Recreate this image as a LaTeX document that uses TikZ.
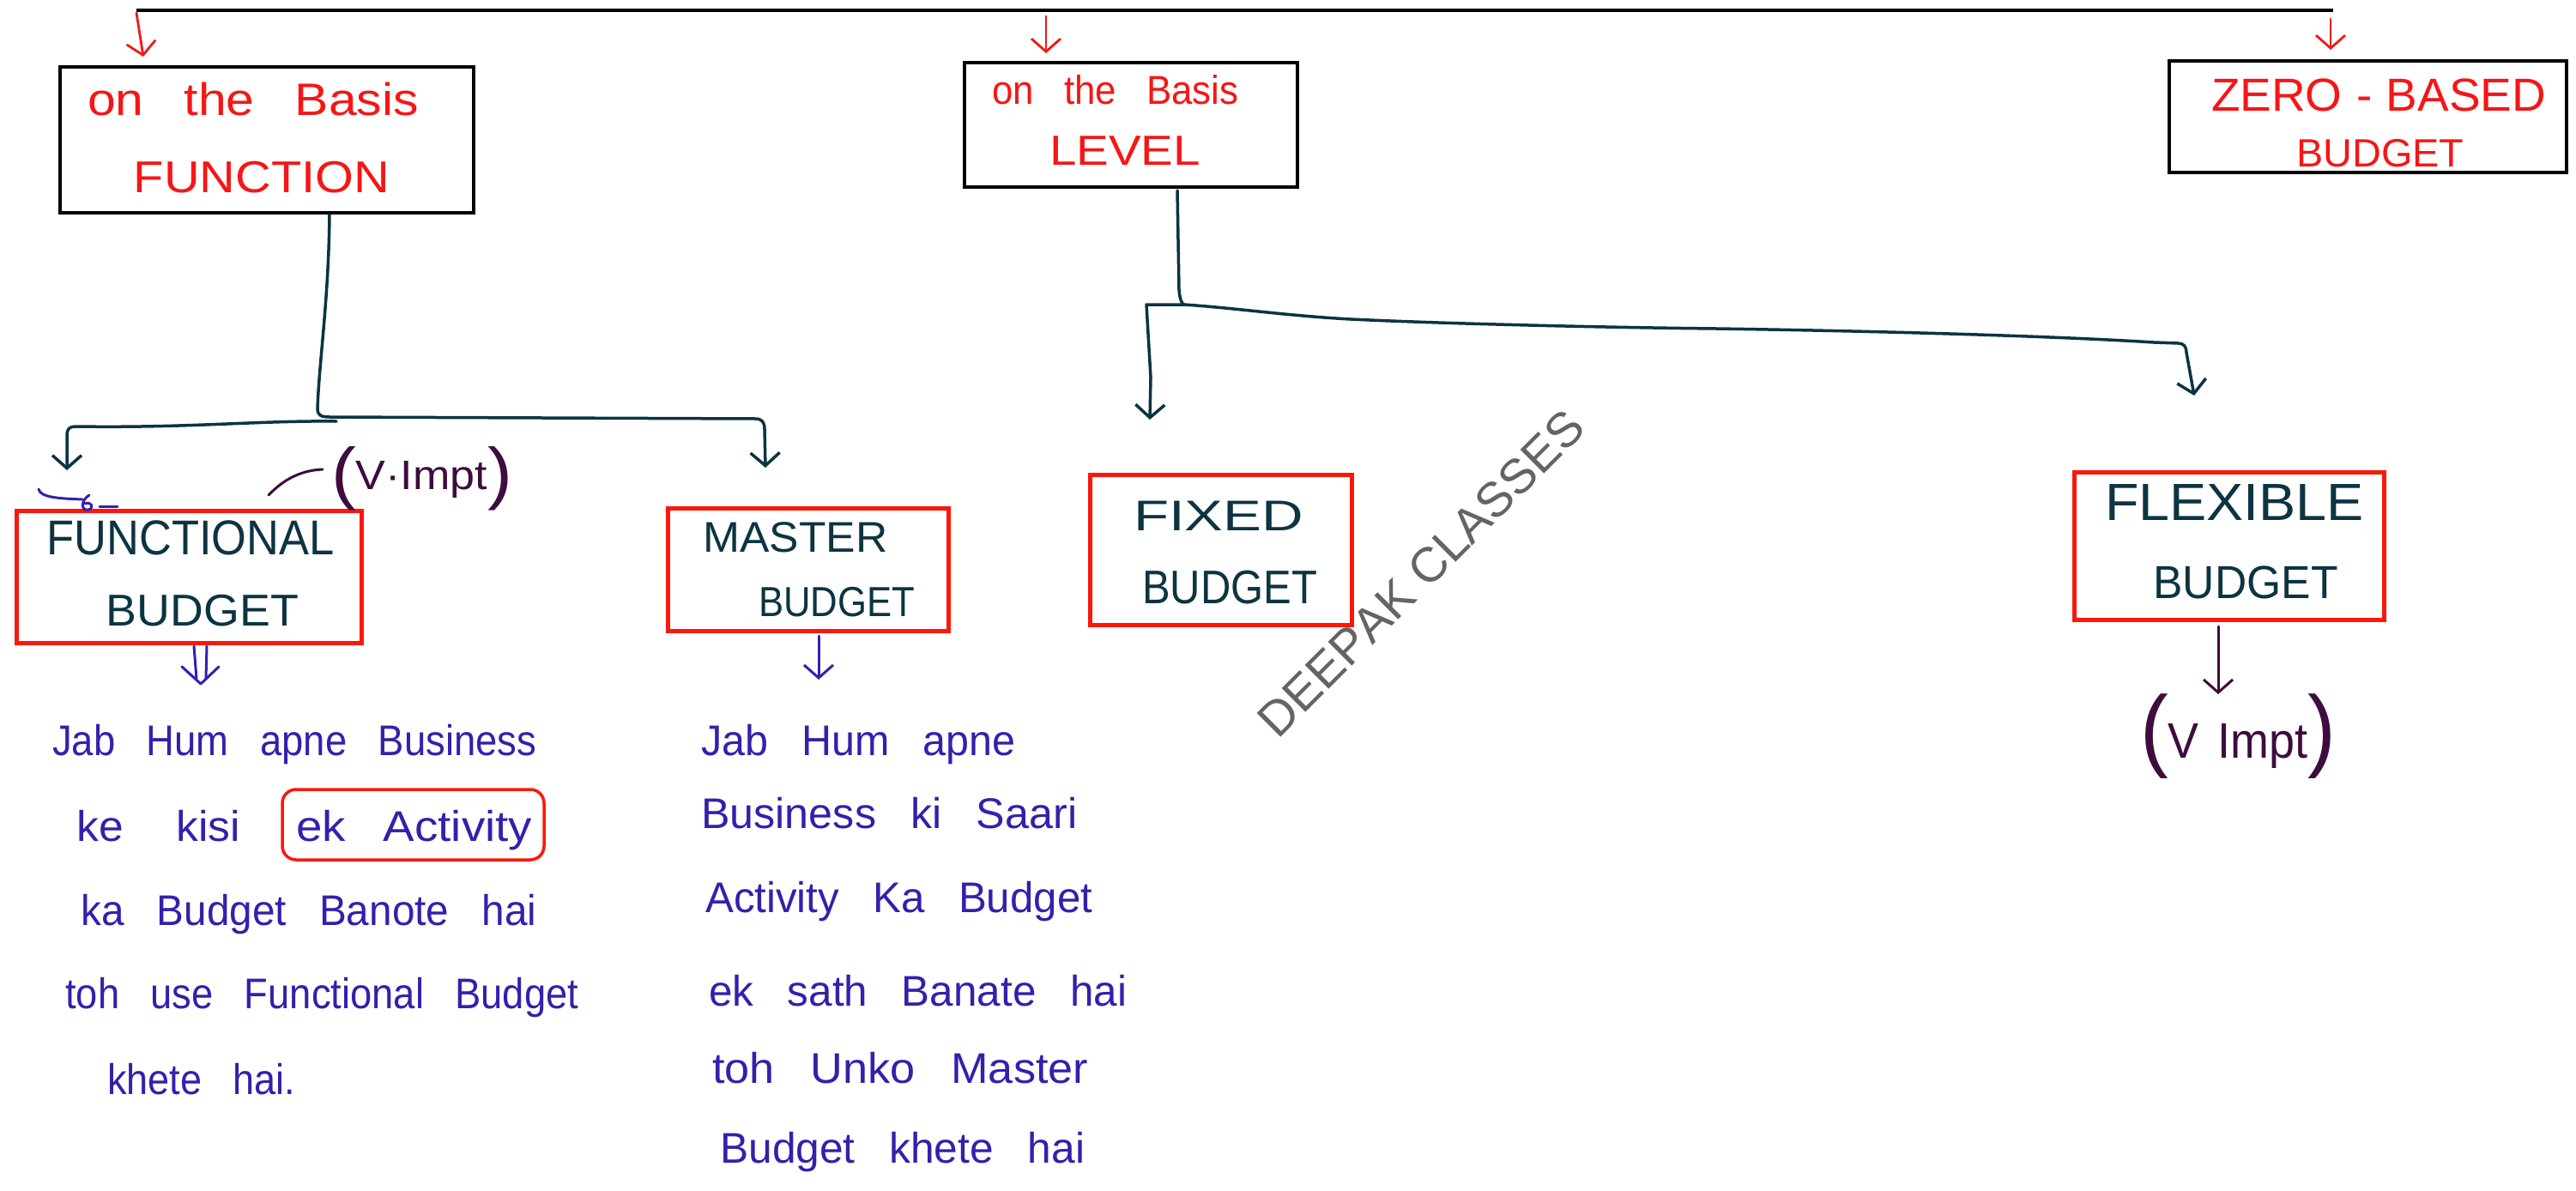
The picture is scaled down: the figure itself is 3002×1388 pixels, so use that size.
\documentclass[tikz,border=0pt]{standalone}
\usepackage{fontspec}
\setmainfont{Liberation Sans}
\usepackage{graphicx}
\usetikzlibrary{arrows.meta,decorations.text}
\definecolor{pred}{RGB}{245,22,22}
\definecolor{bred}{RGB}{250,24,12}
\definecolor{teal2}{RGB}{12,52,66}
\definecolor{ink}{RGB}{52,32,172}
\definecolor{plum}{RGB}{62,12,62}
\definecolor{wmgray}{RGB}{100,100,100}
\newcommand\tx[4][0.8em]{{\fontsize{#2}{#2}\selectfont\spaceskip=#1\relax\resizebox{#3pt}{\height}{#4}}}
\begin{document}
\begin{tikzpicture}[x=1pt,y=-1pt,
  boxbase/.style={rectangle,inner sep=0pt,outer sep=0pt},
  blk/.style={boxbase,draw=black,line width=4.5pt},
  rbox/.style={boxbase,draw=bred,line width=5pt},
  conn/.style={draw=teal2,line width=3.5pt,line cap=round,line join=round},
  barbend/.style={-{Straight Barb[length=15pt,width=34pt]}},
  redarr/.style={draw=pred,line width=2.8pt,line cap=round,barbend},
  bluepen/.style={draw=ink,line width=3pt,line cap=round,line join=round},
  plumpen/.style={draw=plum,line width=3pt,line cap=round,line join=round},
  redtxt/.style={inner sep=0pt,anchor=base,text=pred},
  tealtxt/.style={inner sep=0pt,anchor=base,text=teal2},
  inktxt/.style={inner sep=0pt,anchor=base west,text=ink},
  plumtxt/.style={inner sep=0pt,anchor=center,text=plum}]
\useasboundingbox (0,0) rectangle (3002,1388);
\fill[white] (0,0) rectangle (3002,1388);

% ---- top bar and red arrows
\coordinate (tl) at (159,12);
\coordinate (tr) at (2719,12);
\draw[black,line width=4.5pt] (tl) -- (tr);
\coordinate (a1s) at (159,15);  \coordinate (a1e) at (167,66);
\coordinate (a2s) at (1219,19); \coordinate (a2e) at (1219,62);
\coordinate (a3s) at (2716,22); \coordinate (a3e) at (2716,58);
\draw[redarr] (a1s) -- (a1e);
\draw[redarr] (a2s) -- (a2e);
\draw[redarr] (a3s) -- (a3e);

% ---- top level boxes
\node[blk,minimum width=482pt,minimum height=170pt] (b1) at (311,163) {};
\node[blk,minimum width=388pt,minimum height=145pt] (b2) at (1318,145.5) {};
\node[blk,minimum width=463pt,minimum height=130pt] (b3) at (2759.5,136) {};
\node[redtxt] (t1a) at (295,135) {\tx{53}{386}{on the Basis}};
\node[redtxt] (t1b) at (305,225) {\tx{52}{298}{FUNCTION}};
\node[redtxt] (t2a) at (1300,122) {\tx{47}{287}{on the Basis}};
\node[redtxt] (t2b) at (1311,193) {\tx{49}{176}{LEVEL}};
\node[redtxt] (t3a) at (2772,130) {\tx[0.3em]{54}{390}{ZERO - BASED}};
\node[redtxt] (t3b) at (2774,195) {\tx{46}{195}{BUDGET}};

% ---- second level boxes
\node[rbox,minimum width=402pt,minimum height=154pt] (func) at (220,672) {};
\node[rbox,minimum width=327pt,minimum height=143pt] (mast) at (941.5,663.5) {};
\node[rbox,minimum width=305pt,minimum height=175pt] (fixd) at (1422.5,640.5) {};
\node[rbox,minimum width=361pt,minimum height=172pt] (flex) at (2597.5,636) {};
\node[tealtxt] (f1) at (222,646) {\tx{57}{335}{FUNCTIONAL}};
\node[tealtxt] (f2) at (236,729) {\tx{52}{224}{BUDGET}};
\node[tealtxt] (m1) at (927,643) {\tx{50}{215}{MASTER}};
\node[tealtxt] (m2) at (975,718) {\tx{49}{182}{BUDGET}};
\node[tealtxt] (x1) at (1420,618) {\tx{50}{198}{FIXED}};
\node[tealtxt] (x2) at (1433,703) {\tx{55}{204}{BUDGET}};
\node[tealtxt] (l1) at (2604,606) {\tx{61}{302}{FLEXIBLE}};
\node[tealtxt] (l2) at (2617,697) {\tx{54}{215}{BUDGET}};

% ---- function branch connectors
\coordinate (b1o) at (384,250);
\coordinate (fjn) at (392,491);
\coordinate (ftip) at (78,548);
\coordinate (mtip) at (892,545);
\draw[conn,barbend] (b1o) .. controls (383,350) and (372,420) .. (370,476)
  .. controls (370,484) and (374,486) .. (384,486) -- (880,488)
  .. controls (888,488) and (891,492) .. (891,500) -- (mtip);
\draw[conn,barbend] (fjn) .. controls (300,490) and (220,499) .. (88,497)
  .. controls (81,497) and (78,500) .. (78,507) -- (ftip);

% ---- level branch connectors
\coordinate (b2o) at (1372,222);
\coordinate (ljn) at (1380,355);
\coordinate (xtip) at (1340,489);
\coordinate (ltip) at (2557,461);
\draw[conn] (b2o) -- (1374,338) .. controls (1375,350) and (1378,355) .. (ljn);
\draw[conn,barbend] (ljn) -- (1336,355) -- (1341,440) -- (xtip);
\draw[conn,barbend] (ljn) .. controls (1440,359) and (1500,368) .. (1574,372)
  .. controls (1700,378) and (1900,382) .. (2000,383)
  .. controls (2200,386) and (2400,392) .. (2510,399) -- (2538,400)
  .. controls (2545,400) and (2548,404) .. (2548,411) -- (ltip);

% ---- annotation (V.Impt) near functional
\node[plumtxt] (imp1) at (491.5,557.5) {\resizebox{211pt}{\height}{\fontsize{80}{80}\selectfont(\raisebox{8pt}{\fontsize{48}{48}\selectfont V·Impt})}};
\coordinate (c1s) at (313,577);
\coordinate (c1e) at (376,547);
\draw[plumpen] (c1s) .. controls (333,556) and (354,548) .. (c1e);

% ---- blue scribble above functional
\coordinate (s1) at (45,570);
\coordinate (s2) at (96,582);
\draw[bluepen] (s1) .. controls (47,580) and (70,581) .. (s2);
\draw[bluepen] (104,577) .. controls (93,584) and (95,596) .. (103,594)
  .. controls (110,592) and (107,584) .. (99,587);
\draw[bluepen] (116,590) -- (137,590);

% ---- arrows below functional and master
\coordinate (d1a) at (226,753); \coordinate (d1b) at (229,791);
\coordinate (d2a) at (241,753); \coordinate (d2b) at (240,791);
\draw[bluepen] (d1a) -- (d1b);
\draw[bluepen] (d2a) -- (d2b);
\draw[bluepen] (212,777) -- (234,797) -- (255,777);
\coordinate (ms) at (954,741); \coordinate (me) at (954,792);
\draw[bluepen,barbend] (ms) -- (me);

% ---- functional text
\node[inktxt] (lt1) at (61,880) {\tx{50}{564}{Jab Hum apne Business}};
\node[inktxt] (lt2a) at (89,980) {\tx[1.2em]{50}{191}{ke kisi}};
\node[inktxt] (lt2b) at (345,980) {\tx{50}{275}{ek Activity}};
\node[draw=bred,line width=3.5pt,rounded corners=16pt,minimum width=305pt,minimum height=82pt,inner sep=0pt] (ekbox) at (481.5,961) {};
\node[inktxt] (lt3) at (94,1078) {\tx{50}{531}{ka Budget Banote hai}};
\node[inktxt] (lt4) at (76,1175) {\tx{50}{598}{toh use Functional Budget}};
\node[inktxt] (lt5) at (125,1275) {\tx{50}{219}{khete hai.}};

% ---- master text
\node[inktxt] (rt1) at (817,880) {\tx{50}{366}{Jab Hum apne}};
\node[inktxt] (rt2) at (817,965) {\tx{50}{438}{Business ki Saari}};
\node[inktxt] (rt3) at (822,1063) {\tx{50}{451}{Activity Ka Budget}};
\node[inktxt] (rt4) at (826,1172) {\tx{50}{487}{ek sath Banate hai}};
\node[inktxt] (rt5) at (830,1262) {\tx{50}{438}{toh Unko Master}};
\node[inktxt] (rt6) at (839,1355) {\tx{50}{425}{Budget khete hai}};

% ---- flexible annotation
\coordinate (fs) at (2585,730); \coordinate (fe) at (2585,809);
\draw[plumpen,barbend] (fs) -- (fe);
\node[plumtxt] (imp2) at (2608,858) {\resizebox{228pt}{\height}{\fontsize{106}{106}\selectfont(\raisebox{2pt}{\fontsize{58}{58}\selectfont\spaceskip=0.4em\relax V Impt})}};

% ---- watermark (set along a diagonal path, letter by letter)
\coordinate (wms) at (1458,894);
\coordinate (wme) at (1882,470);
\path[decorate,decoration={text along path,text align=center,
  text={|\fontsize{57}{57}\selectfont\color{wmgray}|DEEPAK CLASSES}}] (wms) -- (wme);
\end{tikzpicture}
\end{document}
